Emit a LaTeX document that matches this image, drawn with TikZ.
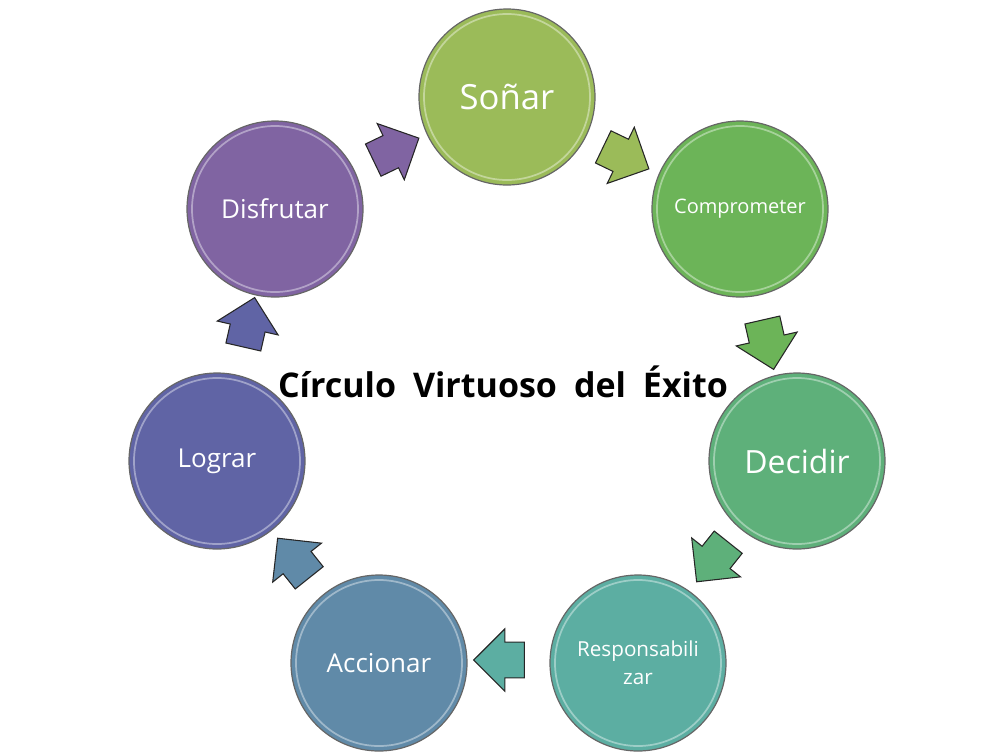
\documentclass[tikz,border=0pt]{standalone}
\usepackage{fontspec}
\setmainfont{Open Sans}
\usetikzlibrary{shapes.arrows}

\definecolor{sonar}{RGB}{155,187,89}
\definecolor{compro}{RGB}{108,180,88}
\definecolor{decidir}{RGB}{94,176,122}
\definecolor{respon}{RGB}{92,174,162}
\definecolor{accion}{RGB}{96,138,168}
\definecolor{lograr}{RGB}{96,100,165}
\definecolor{disfru}{RGB}{128,100,162}

\tikzset{
  bubble/.style={circle, draw=black!60, line width=0.9pt, minimum size=132pt,
    inner sep=0pt, text=white, align=center},
  blockarrow/.style={single arrow, draw=black!85, line width=0.8pt,
    minimum height=38pt, minimum width=46pt, inner sep=0pt, inner ysep=13pt,
    single arrow head extend=10pt},
  shine/.style={draw=white, line width=1.3pt, opacity=0.4}
}

\begin{document}
\begin{tikzpicture}[x=0.75pt,y=0.75pt,yscale=-1,xscale=1]
\useasboundingbox (0,0) rectangle (1001,751);

%Circles
\node[bubble, fill=sonar, font=\fontsize{26}{28}\selectfont] (sonar) at (507,97) {Soñar};
\node[bubble, fill=compro, font=\fontsize{15}{17}\selectfont] (comprometer) at (740,209) {Comprometer};
\node[bubble, fill=decidir, font=\fontsize{24}{26}\selectfont] (decidir) at (797,461) {Decidir};
\node[bubble, fill=respon, font=\fontsize{15.5}{21}\selectfont] (responsabilizar) at (638,663) {Responsabili\\zar};
\node[bubble, fill=accion, font=\fontsize{19.5}{22}\selectfont] (accionar) at (379,663) {Accionar};
\node[bubble, fill=lograr, font=\fontsize{19.5}{22}\selectfont] (lograr) at (217,461) {Lograr};
\node[bubble, fill=disfru, font=\fontsize{19.5}{22}\selectfont] (disfrutar) at (275,209) {Disfrutar};

%Inner rings
\draw[shine] (sonar) circle (83);
\draw[shine] (comprometer) circle (83);
\draw[shine] (decidir) circle (83);
\draw[shine] (responsabilizar) circle (83);
\draw[shine] (accionar) circle (83);
\draw[shine] (lograr) circle (83);
\draw[shine] (disfrutar) circle (83);

%Arrows
\node[blockarrow, fill=sonar, rotate=-25.71] (a1) at (618,154) {};
\node[blockarrow, fill=compro, rotate=-77.14] (a2) at (766,336) {};
\node[blockarrow, fill=decidir, rotate=-128.57] (a3) at (718,555) {};
\node[blockarrow, fill=respon, rotate=180] (a4) at (508,660) {};
\node[blockarrow, fill=accion, rotate=128.57] (a5) at (299,565) {};
\node[blockarrow, fill=lograr, rotate=77.14] (a6) at (247,331) {};
\node[blockarrow, fill=disfru, rotate=25.71] (a7) at (388,153) {};

%Title
\node[font=\bfseries\fontsize{25.5}{28}\selectfont, text=black] (titulo) at (503,382)
  {Círculo\hspace{0.5em}Virtuoso\hspace{0.5em}del\hspace{0.5em}Éxito};

\end{tikzpicture}
\end{document}
